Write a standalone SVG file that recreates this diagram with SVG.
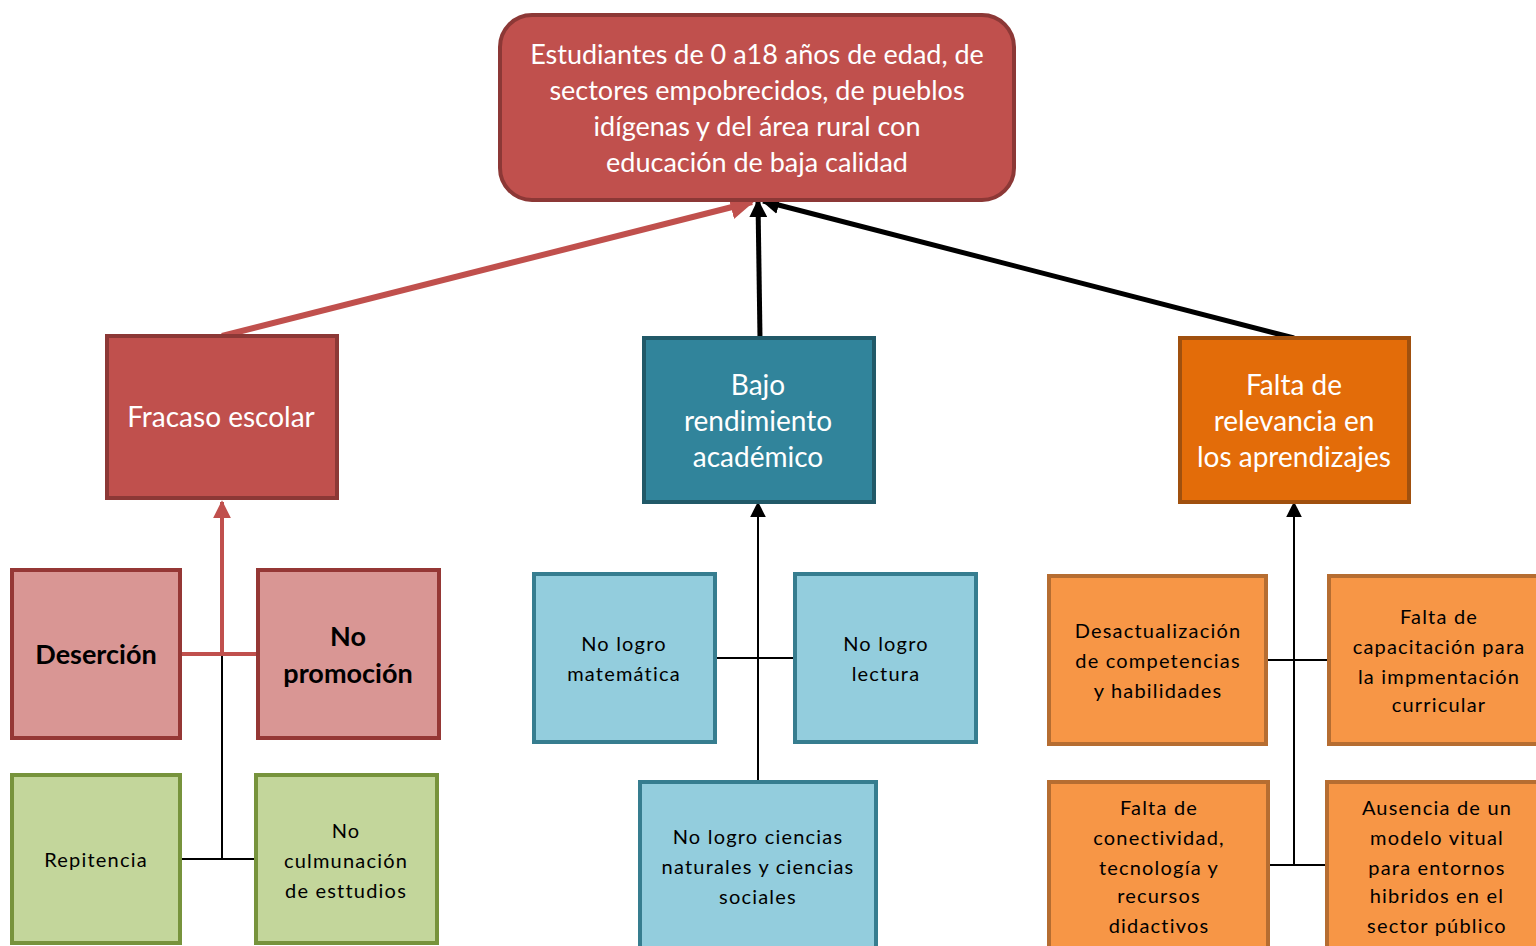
<svg xmlns="http://www.w3.org/2000/svg" width="1536" height="946" viewBox="0 0 1536 946">
<style>
text{font-family:Lato,"Open Sans","Liberation Sans",sans-serif;text-anchor:middle}
.w{fill:#ffffff;font-size:27px}
.w2{fill:#ffffff;font-size:28px}
.k{fill:#000000;font-size:20px;letter-spacing:1.2px}
.b{fill:#000000;font-size:27px;font-weight:bold}
.red{fill:#C0504D;stroke:#8C3836;stroke-width:4}
.teal{fill:#31849B;stroke:#215968;stroke-width:4}
.org{fill:#E36C09;stroke:#A0500E;stroke-width:4}
.pink{fill:#D99694;stroke:#953735;stroke-width:4}
.grn{fill:#C3D69B;stroke:#77933C;stroke-width:4}
.lb{fill:#93CDDD;stroke:#367D8F;stroke-width:4}
.lo{fill:#F79646;stroke:#B66D31;stroke-width:4}
</style>
<defs>
<marker id="ar" viewBox="0 0 10 10" refX="9" refY="5" markerWidth="4" markerHeight="4" orient="auto" markerUnits="strokeWidth"><path d="M0,0 L10,5 L0,10 z" fill="#C0504D"/></marker>
<marker id="ak" viewBox="0 0 10 10" refX="9" refY="5" markerWidth="3.6" markerHeight="3.6" orient="auto" markerUnits="strokeWidth"><path d="M0,0 L10,5 L0,10 z" fill="#000"/></marker>
<marker id="ar2" viewBox="0 0 10 10" refX="9" refY="5" markerWidth="4.5" markerHeight="4.5" orient="auto" markerUnits="strokeWidth"><path d="M0,0 L10,5 L0,10 z" fill="#C0504D"/></marker>
<marker id="ak2" viewBox="0 0 10 10" refX="9" refY="5" markerWidth="8" markerHeight="8" orient="auto" markerUnits="strokeWidth"><path d="M0,0 L10,5 L0,10 z" fill="#000"/></marker>
</defs>

<g id="connectors">
<line x1="222" y1="336" x2="752" y2="202" stroke="#C0504D" stroke-width="6" marker-end="url(#ar)"/>
<line x1="760" y1="338" x2="758" y2="201" stroke="#000" stroke-width="5" marker-end="url(#ak)"/>
<line x1="1294" y1="338" x2="763" y2="201" stroke="#000" stroke-width="5" marker-end="url(#ak)"/>
<line x1="222" y1="654" x2="222" y2="502" stroke="#C0504D" stroke-width="4" marker-end="url(#ar2)"/>
<line x1="180" y1="654" x2="258" y2="654" stroke="#C0504D" stroke-width="4"/>
<line x1="222" y1="656" x2="222" y2="859" stroke="#000" stroke-width="2"/>
<line x1="180" y1="859" x2="256" y2="859" stroke="#000" stroke-width="2"/>
<line x1="758" y1="781" x2="758" y2="503" stroke="#000" stroke-width="2" marker-end="url(#ak2)"/>
<line x1="715" y1="658" x2="795" y2="658" stroke="#000" stroke-width="2"/>
<line x1="1294" y1="865" x2="1294" y2="503" stroke="#000" stroke-width="2" marker-end="url(#ak2)"/>
<line x1="1267" y1="660" x2="1328" y2="660" stroke="#000" stroke-width="2"/>
<line x1="1269" y1="865" x2="1326" y2="865" stroke="#000" stroke-width="2"/>
</g>

<g id="top">
<rect class="red" x="500" y="15" width="514" height="185" rx="32"/>
<text class="w" x="757" y="64">Estudiantes de 0 a18 años de edad, de</text>
<text class="w" x="757" y="100">sectores empobrecidos, de pueblos</text>
<text class="w" x="757" y="136">idígenas y del área rural con</text>
<text class="w" x="757" y="172">educación de baja calidad</text>
</g>

<g id="fracaso">
<rect class="red" x="107" y="336" width="230" height="162"/>
<text class="w2" x="221" y="427">Fracaso escolar</text>
</g>
<g id="bajo">
<rect class="teal" x="644" y="338" width="230" height="164"/>
<text class="w2" x="758" y="395">Bajo</text>
<text class="w2" x="758" y="431">rendimiento</text>
<text class="w2" x="758" y="467">académico</text>
</g>
<g id="falta-relevancia">
<rect class="org" x="1180" y="338" width="229" height="164"/>
<text class="w2" x="1294" y="395">Falta de</text>
<text class="w2" x="1294" y="431">relevancia en</text>
<text class="w2" x="1294" y="467">los aprendizajes</text>
</g>

<g id="desercion">
<rect class="pink" x="12" y="570" width="168" height="168"/>
<text class="b" x="96" y="664">Deserción</text>
</g>
<g id="no-promocion">
<rect class="pink" x="258" y="570" width="181" height="168"/>
<text class="b" x="348" y="646">No</text>
<text class="b" x="348" y="683">promoción</text>
</g>
<g id="repitencia">
<rect class="grn" x="12" y="775" width="168" height="168"/>
<text class="k" x="96" y="867">Repitencia</text>
</g>
<g id="no-culmunacion">
<rect class="grn" x="256" y="775" width="181" height="168"/>
<text class="k" x="346" y="838">No</text>
<text class="k" x="346" y="868">culmunación</text>
<text class="k" x="346" y="898">de esttudios</text>
</g>

<g id="matematica">
<rect class="lb" x="534" y="574" width="181" height="168"/>
<text class="k" x="624" y="651">No logro</text>
<text class="k" x="624" y="681">matemática</text>
</g>
<g id="lectura">
<rect class="lb" x="795" y="574" width="181" height="168"/>
<text class="k" x="886" y="651">No logro</text>
<text class="k" x="886" y="681">lectura</text>
</g>
<g id="ciencias">
<rect class="lb" x="640" y="782" width="236" height="180"/>
<text class="k" x="758" y="844">No logro ciencias</text>
<text class="k" x="758" y="874">naturales y ciencias</text>
<text class="k" x="758" y="904">sociales</text>
</g>

<g id="desactualizacion">
<rect class="lo" x="1049" y="576" width="217" height="168"/>
<text class="k" x="1158" y="638">Desactualización</text>
<text class="k" x="1158" y="668">de competencias</text>
<text class="k" x="1158" y="698">y habilidades</text>
</g>
<g id="capacitacion">
<rect class="lo" x="1329" y="576" width="220" height="168"/>
<text class="k" x="1439" y="624">Falta de</text>
<text class="k" x="1439" y="654">capacitación para</text>
<text class="k" x="1439" y="684">la impmentación</text>
<text class="k" x="1439" y="712">curricular</text>
</g>
<g id="conectividad">
<rect class="lo" x="1049" y="782" width="219" height="180"/>
<text class="k" x="1159" y="815">Falta de</text>
<text class="k" x="1159" y="845">conectividad,</text>
<text class="k" x="1159" y="875">tecnología y</text>
<text class="k" x="1159" y="903">recursos</text>
<text class="k" x="1159" y="933">didactivos</text>
</g>
<g id="ausencia">
<rect class="lo" x="1327" y="782" width="222" height="180"/>
<text class="k" x="1437" y="815">Ausencia de un</text>
<text class="k" x="1437" y="845">modelo vitual</text>
<text class="k" x="1437" y="875">para entornos</text>
<text class="k" x="1437" y="903">hibridos en el</text>
<text class="k" x="1437" y="933">sector público</text>
</g>
</svg>
